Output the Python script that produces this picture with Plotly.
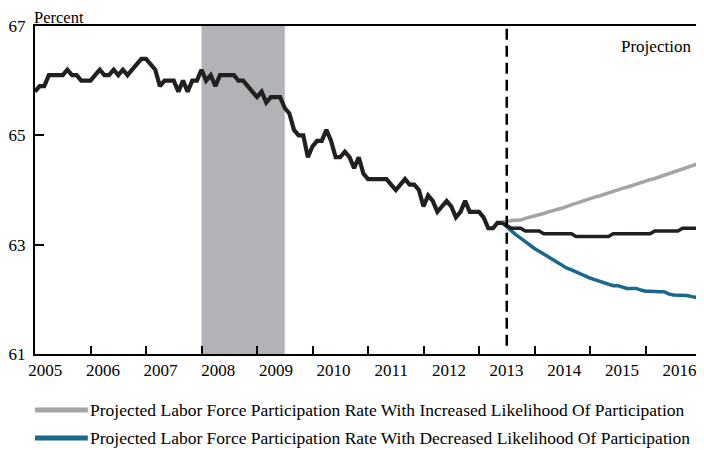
import plotly.graph_objects as go

# monthly labor force participation rate, Jan 2005 - Jun 2013
start_year = 2005
hist_rate = [
    65.8, 65.9, 65.9, 66.1, 66.1, 66.1, 66.1, 66.2, 66.1, 66.1, 66.0, 66.0,  # 2005
    66.0, 66.1, 66.2, 66.1, 66.1, 66.2, 66.1, 66.2, 66.1, 66.2, 66.3, 66.4,  # 2006
    66.4, 66.3, 66.2, 65.9, 66.0, 66.0, 66.0, 65.8, 66.0, 65.8, 66.0, 66.0,  # 2007
    66.2, 66.0, 66.1, 65.9, 66.1, 66.1, 66.1, 66.1, 66.0, 66.0, 65.9, 65.8,  # 2008
    65.7, 65.8, 65.6, 65.7, 65.7, 65.7, 65.5, 65.4, 65.1, 65.0, 65.0, 64.6,  # 2009
    64.8, 64.9, 64.9, 65.1, 64.9, 64.6, 64.6, 64.7, 64.6, 64.4, 64.6, 64.3,  # 2010
    64.2, 64.2, 64.2, 64.2, 64.2, 64.1, 64.0, 64.1, 64.2, 64.1, 64.1, 64.0,  # 2011
    63.7, 63.9, 63.8, 63.6, 63.7, 63.8, 63.7, 63.5, 63.6, 63.8, 63.6, 63.6,  # 2012
    63.6, 63.5, 63.3, 63.3, 63.4, 63.4,  # 2013
]

# projections, Jun 2013 - Jan 2017 (month index from Jan 2005)
proj_start = 101
proj_baseline = [
    63.40, 63.35, 63.30, 63.30, 63.30, 63.25, 63.25, 63.25, 63.25, 63.20,
    63.20, 63.20, 63.20, 63.20, 63.20, 63.20, 63.15, 63.15, 63.15, 63.15,
    63.15, 63.15, 63.15, 63.15, 63.20, 63.20, 63.20, 63.20, 63.20, 63.20,
    63.20, 63.20, 63.20, 63.25, 63.25, 63.25, 63.25, 63.25, 63.25, 63.30,
    63.30, 63.30, 63.30, 63.30,
]
proj_increased = [
    63.42, 63.42, 63.44, 63.45, 63.45, 63.48, 63.50, 63.52, 63.55, 63.57,
    63.60, 63.62, 63.65, 63.67, 63.70, 63.73, 63.75, 63.78, 63.82, 63.84,
    63.87, 63.89, 63.92, 63.95, 63.97, 64.00, 64.03, 64.05, 64.08, 64.11,
    64.13, 64.16, 64.19, 64.21, 64.24, 64.27, 64.30, 64.32, 64.35, 64.38,
    64.41, 64.44, 64.47, 64.50,
]
proj_decreased = [
    63.40, 63.32, 63.25, 63.18, 63.12, 63.05, 62.98, 62.93, 62.88, 62.83,
    62.78, 62.72, 62.67, 62.62, 62.57, 62.54, 62.50, 62.46, 62.42, 62.39,
    62.36, 62.33, 62.30, 62.27, 62.25, 62.25, 62.22, 62.20, 62.20, 62.20,
    62.17, 62.15, 62.15, 62.14, 62.14, 62.14, 62.10, 62.08, 62.08, 62.08,
    62.07, 62.05, 62.03, 62.02,
]

year_labels = [str(y) for y in range(2005, 2017)]
label_pos = [2005.185, 2006.224, 2007.263, 2008.302, 2009.341, 2010.380,
             2011.419, 2012.458, 2013.497, 2014.536, 2015.575, 2016.614]
year_ticks = list(range(2006, 2017))

recession = (2008.0, 2009.5)
projection_line = 2013.5

legend_names = [
    "Projected Labor Force Participation Rate With Increased Likelihood Of Participation",
    "Projected Labor Force Participation Rate With Decreased Likelihood Of Participation",
]

BLACK = "#231f20"
GRAY = "#a3a4a6"
TEAL = "#18698a"
FONT = "Liberation Serif"

hist_x = [start_year + i / 12 for i in range(len(hist_rate))]
proj_x = [start_year + (proj_start + i) / 12 for i in range(len(proj_baseline))]

fig = go.Figure()
fig.add_trace(go.Scatter(x=proj_x, y=proj_increased, mode="lines",
                         line=dict(color=GRAY, width=3.5), showlegend=False))
fig.add_trace(go.Scatter(x=proj_x, y=proj_decreased, mode="lines",
                         line=dict(color=TEAL, width=3.5), showlegend=False))
fig.add_trace(go.Scatter(x=proj_x, y=proj_baseline, mode="lines",
                         line=dict(color=BLACK, width=3.5), showlegend=False))
fig.add_trace(go.Scatter(x=hist_x, y=hist_rate, mode="lines",
                         line=dict(color=BLACK, width=4.2), showlegend=False))

# recession shading
fig.add_shape(type="rect", xref="x", yref="paper", x0=recession[0], x1=recession[1],
              y0=0, y1=1, fillcolor="#b2b3b7", line_width=0, layer="below")
# start of projection
fig.add_shape(type="line", xref="x", yref="y", x0=projection_line, x1=projection_line,
              y0=61.15, y1=67, line=dict(color="black", width=2.5, dash="11px,6px"))

fig.add_annotation(x=2016.85, y=66.62, xref="x", yref="y", text="Projection",
                   showarrow=False, xanchor="right", yanchor="middle",
                   font=dict(family=FONT, size=17, color="black"))
fig.add_annotation(x=0, y=1, xref="paper", yref="paper", text="Percent",
                   showarrow=False, xanchor="left", yanchor="bottom", xshift=-2, yshift=-2,
                   borderpad=0, font=dict(family=FONT, size=16.5, color="black"))

# legend drawn below the plot
for i, (name, col) in enumerate(zip(legend_names, [GRAY, TEAL])):
    ly = -0.1707 - i * 0.0854
    fig.add_shape(type="line", xref="paper", yref="paper", x0=0, x1=0.0793,
                  y0=ly, y1=ly, line=dict(color=col, width=5))
    fig.add_annotation(x=0.0793, y=ly, xref="paper", yref="paper", text=name,
                       showarrow=False, xanchor="left", yanchor="middle",
                       font=dict(family=FONT, size=17.5, color="black"))

fig.update_xaxes(
    range=[2005, 2017], showline=True, linecolor="black", linewidth=2, mirror=True,
    showgrid=False, zeroline=False, tickmode="array", tickvals=label_pos,
    ticktext=year_labels, ticks="",
    minor=dict(tickmode="array", tickvals=year_ticks, ticks="inside", ticklen=8,
               tickwidth=2, tickcolor="black", showgrid=False),
)
fig.update_yaxes(
    range=[61, 67], showline=True, linecolor="black", linewidth=2, mirror=True,
    showgrid=False, zeroline=False, tickmode="array", tickvals=[61, 63, 65, 67],
    ticks="inside", ticklen=9, tickwidth=2, tickcolor="black", ticklabelstandoff=4,
)
# page body adds an 8px offset, so the figure is 8px smaller than the window
fig.update_layout(
    width=696, height=442,
    margin=dict(l=27, r=1, t=18, b=96),
    plot_bgcolor="white", paper_bgcolor="white",
    font=dict(family=FONT, size=17, color="black"),
    showlegend=False,
)

fig.write_html("out.html")
